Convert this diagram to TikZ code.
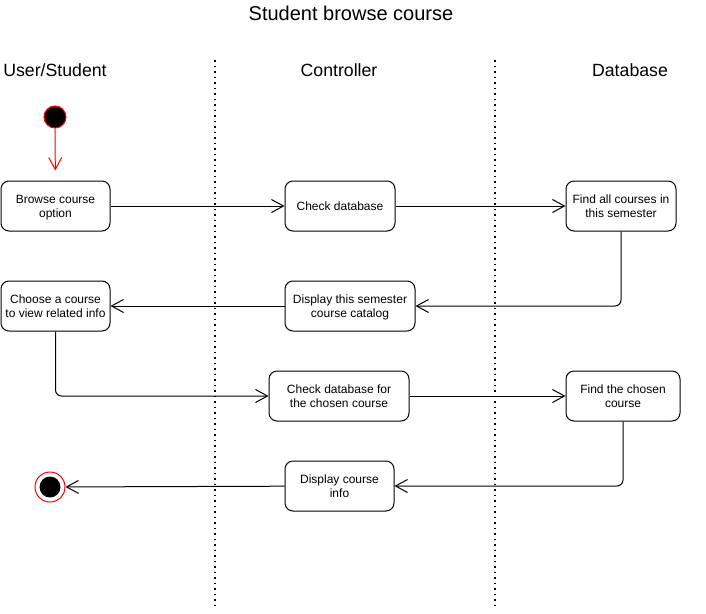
\documentclass[tikz,border=0pt]{standalone}
\usepackage{fontspec}
\setmainfont{Liberation Sans}
\usetikzlibrary{arrows.meta}
\begin{document}
\begin{tikzpicture}[x=1pt,y=-1pt,
  act/.style={draw,rounded corners=8pt,line width=1pt,minimum height=50pt,align=center,font=\fontsize{12}{14}\selectfont,inner sep=0pt,text depth=0pt},
  flow/.style={line width=1pt,-{Straight Barb[length=12pt,width=13pt,line width=1pt]},rounded corners=6pt},
  lane/.style={font=\fontsize{17.7}{21}\selectfont},
  sep/.style={line width=1.5pt,dash pattern=on 1.5pt off 4pt}]
\useasboundingbox (0,0) rectangle (706,613);
\node[font=\fontsize{20}{24}\selectfont] (title) at (351,13) {Student browse course};
\node[lane] (l1) at (55,70) {User/Student};
\node[lane] (l2) at (339,70) {Controller};
\node[lane] (l3) at (630,70) {Database};
\draw[sep] (215,60) -- (215,608);
\draw[sep] (495,60) -- (495,608);

\node[circle,fill=black,draw=red,line width=1pt,minimum size=22pt,inner sep=0pt] (start) at (55,117) {};
\node[circle,draw=red,line width=1pt,minimum size=30pt,inner sep=0pt] (end) at (50,487) {};
\node[circle,fill=black,minimum size=21pt,inner sep=0pt] (endin) at (50,487) {};

\node[act,minimum width=109pt] (browse) at (55.5,206) {Browse course\\option};
\node[act,minimum width=110pt] (check) at (340,206) {Check database};
\node[act,minimum width=110pt] (findall) at (621,206) {Find all courses in\\this semester};
\node[act,minimum width=130pt] (display) at (350,306) {Display this semester\\course catalog};
\node[act,minimum width=109pt] (choose) at (55.5,306) {Choose a course\\to view related info};
\node[act,minimum width=140pt] (checkc) at (339,396) {Check database for\\the chosen course};
\node[act,minimum width=114pt] (findc) at (623,396) {Find the chosen\\course};
\node[act,minimum width=109pt] (info) at (339.5,486) {Display course\\info};

\draw[flow,draw=red,shorten >=10pt] (start) -- (browse);
\draw[flow] (browse) -- (check);
\draw[flow] (check) -- (findall);
\draw[flow] (findall.south) |- (display.east);
\draw[flow] (display) -- (choose);
\draw[flow] (choose.south) |- (checkc.west);
\draw[flow] (checkc) -- (findc);
\draw[flow] (findc.south) |- (info.east);
\draw[flow] (info) -- (end);
\end{tikzpicture}
\end{document}
